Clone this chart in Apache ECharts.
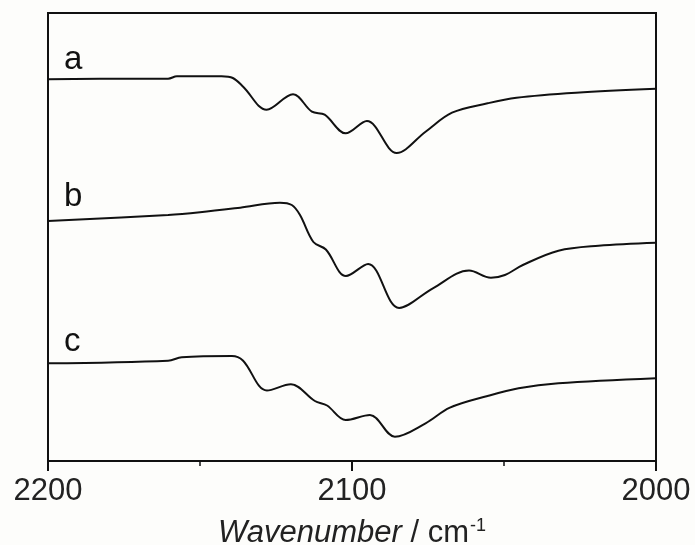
<!DOCTYPE html>
<html lang="en">
<head>
  <meta charset="UTF-8">
  <title>IR spectra</title>
  <style>
    body { margin: 0; background: #fdfdfb; }
  </style>
</head>
<body>
  <div id="main" style="width:695px;height:545px"></div>
  <script src="https://cdn.jsdelivr.net/npm/echarts@6/dist/echarts.min.js"></script>
  <script>
    // wavenumber (cm-1) / offset intensity
    var waveA = [2200, 2172, 2160.5, 2157.6, 2142.9, 2139.2, 2135.8, 2128.1, 2119.4, 2113.2, 2109, 2102.1, 2095.1, 2085.3, 2075.8, 2067.1, 2055.4, 2045.9, 2026.3, 2000]
    var valA = [381.7, 382.3, 382.3, 384.7, 384.7, 383, 374.3, 351.3, 366.8, 349.3, 346.3, 327.7, 340, 308, 329.3, 348.3, 357.7, 363.3, 368.3, 372.3]

    var waveB = [2200, 2160.5, 2150, 2136.8, 2123.7, 2119.8, 2117.1, 2112.7, 2108.6, 2102, 2094.7, 2084.5, 2073.4, 2061.5, 2054.3, 2049.7, 2043.8, 2032.1, 2018.9, 2000]
    var valB = [240, 246, 248.7, 253.3, 258.3, 256, 246, 219, 211.5, 185, 197, 153, 172.7, 190.5, 183.3, 186, 196, 210.3, 215.3, 218.3]

    var waveC = [2200, 2160.5, 2156, 2139.5, 2135.9, 2128, 2120.1, 2112.2, 2108.2, 2102.1, 2094.1, 2085.9, 2075.8, 2067.8, 2055.4, 2045.2, 2032.1, 2000]
    var valC = [97.7, 100.3, 103.7, 105, 100.5, 70.5, 76.7, 60, 55.5, 41, 46, 24.3, 37.7, 53.3, 65, 72.7, 77.7, 82.7]

    var xTicks = [2200, 2100, 2000]
    var curveNames = ['a', 'b', 'c']

    function pairs(w, v) {
      return w.map(function (x, i) { return [x, v[i]] })
    }

    var myChart = echarts.init(document.getElementById('main'))

    var lineSeries = [[waveA, valA], [waveB, valB], [waveC, valC]].map(function (d, i) {
      return {
        name: curveNames[i],
        type: 'line',
        data: pairs(d[0], d[1]),
        smooth: 0.35,
        showSymbol: false,
        lineStyle: { color: '#111', width: 2 }
      }
    })

    var option = {
      animation: false,
      backgroundColor: '#fdfdfb',
      grid: {
        left: 48, right: 39, top: 13, bottom: 84,
        outerBoundsMode: 'none',
        containLabel: false,
        show: true, borderColor: '#111', borderWidth: 2
      },
      xAxis: {
        type: 'value',
        inverse: true,
        min: 2000, max: 2200, interval: 100,
        axisLine: { lineStyle: { color: '#111', width: 2 } },
        axisTick: { length: 10, lineStyle: { color: '#111', width: 2 } },
        minorTick: { show: true, splitNumber: 2, length: 5, lineStyle: { color: '#111', width: 1.5 } },
        splitLine: { show: false },
        axisLabel: {
          color: '#222', fontFamily: 'Liberation Sans, Arial', fontSize: 31, margin: 15,
          formatter: function (v) { return xTicks.indexOf(v) >= 0 ? String(v) : '' }
        },
        name: '{i|Wavenumber}{n| / cm}{s|-1}',
        nameLocation: 'middle',
        nameGap: 56,
        nameTextStyle: {
          rich: {
            i: { fontFamily: 'Liberation Sans, Arial', fontStyle: 'italic', fontSize: 31, color: '#222' },
            n: { fontFamily: 'Liberation Sans, Arial', fontSize: 31, color: '#222' },
            s: { fontFamily: 'Liberation Sans, Arial', fontSize: 18, color: '#222', padding: [0, 0, 14, 1] }
          }
        }
      },
      yAxis: {
        type: 'value',
        min: 0, max: 448,
        show: false
      },
      graphic: curveNames.map(function (n, i) {
        return {
          type: 'text',
          left: 64,
          top: [43, 180, 325][i],
          style: { text: n, font: '33px "Liberation Sans", Arial', fill: '#111' }
        }
      }),
      series: lineSeries
    }

    myChart.setOption(option)
  </script>
</body>
</html>
